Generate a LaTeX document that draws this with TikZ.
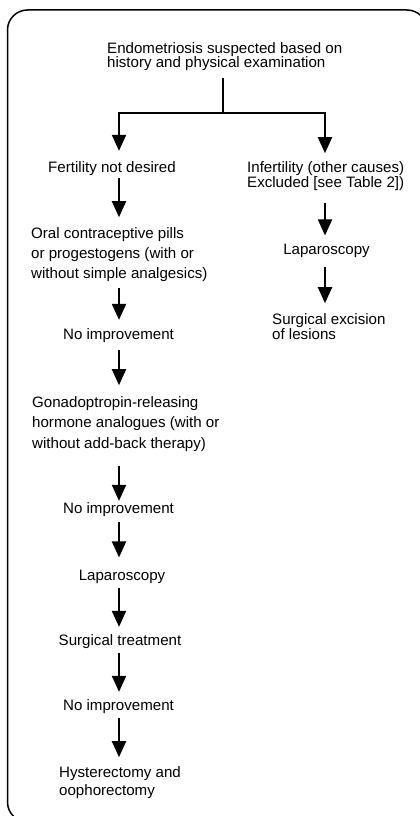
\documentclass[tikz,border=0pt]{standalone}
\usepackage{fontspec}
\setmainfont{Liberation Sans}
\usetikzlibrary{arrows.meta,calc}
\begin{document}
\begin{tikzpicture}[x=1pt,y=-1pt,
  txt/.style={inner sep=0pt,font=\fontsize{15.1}{20.3}\selectfont,align=left},
  arr/.style={line width=2pt,-{Triangle[width=14pt,length=16pt]}},
  ln/.style={line width=2pt},
  frame/.style={line width=1.5pt,rounded corners=20pt}]
\useasboundingbox (0,0) rectangle (420,816);
\clip (0,0) rectangle (420,816);
\draw[frame] (7.5,10) rectangle (427,822);
\coordinate (lx) at (119,0);
\coordinate (rx) at (325,0);
\coordinate (mx) at (223,0);
\coordinate (jn) at (223,113);
% nodes
\node[txt,anchor=north west,font=\fontsize{15.1}{14.5}\selectfont] (title) at (107,42.2) {Endometriosis suspected based on\\history and physical examination};
\node[txt,anchor=base west] (fert) at (48,172) {Fertility not desired};
\node[txt,anchor=north west,font=\fontsize{15.1}{15}\selectfont] (infert) at (247,161.2) {Infertility (other causes)\\Excluded [see Table 2])};
\node[txt,anchor=north west] (ocp) at (31,227.2) {Oral contraceptive pills\\or progestogens (with or\\without simple analgesics)};
\node[txt,anchor=base] (noimp1) at (118.5,339) {No improvement};
\node[txt,anchor=north west,font=\fontsize{15.1}{20.5}\selectfont] (gnrh) at (32,396.2) {Gonadoptropin-releasing\\hormone analogues (with or\\without add-back therapy)};
\node[txt,anchor=base] (noimp2) at (118.5,513) {No improvement};
\node[txt,anchor=base] (lap1) at (122,580) {Laparoscopy};
\node[txt,anchor=base] (surg) at (120,645) {Surgical treatment};
\node[txt,anchor=base] (noimp3) at (118.5,710) {No improvement};
\node[txt,anchor=north west,font=\fontsize{15.1}{18.5}\selectfont] (hyst) at (59,766.2) {Hysterectomy and\\oophorectomy};
\node[txt,anchor=base] (lap2) at (326.5,254) {Laparoscopy};
\node[txt,anchor=north west,font=\fontsize{15.1}{15}\selectfont] (excis) at (272,313.2) {Surgical excision\\of lesions};
% connectors
\draw[ln, shorten <=7pt] (title.south -| mx) -- (jn);
\draw[arr, shorten >=10pt] (jn) -| (fert.north -| lx);
\draw[arr, shorten >=8pt] (jn) -| (infert.north -| rx);
\draw[arr, shorten <=3pt, shorten >=10pt] (fert.south -| lx) -- (ocp.north -| lx);
\draw[arr, shorten <=6pt, shorten >=8pt] (ocp.south -| lx) -- (noimp1.north -| lx);
\draw[arr, shorten <=8pt, shorten >=11pt] (noimp1.south -| lx) -- (gnrh.north -| lx);
\draw[arr, shorten <=14pt, shorten >=1pt] (gnrh.south -| lx) -- (noimp2.north -| lx);
\draw[arr, shorten <=6pt, shorten >=12pt] (noimp2.south -| lx) -- (lap1.north -| lx);
\draw[arr, shorten <=5pt, shorten >=7pt] (lap1.south -| lx) -- (surg.north -| lx);
\draw[arr, shorten <=5pt, shorten >=7pt] (surg.south -| lx) -- (noimp3.north -| lx);
\draw[arr, shorten <=5pt, shorten >=9pt] (noimp3.south -| lx) -- (hyst.north -| lx);
\draw[arr, shorten <=12pt, shorten >=8pt] (infert.south -| rx) -- (lap2.north -| rx);
\draw[arr, shorten <=10pt, shorten >=10pt] (lap2.south -| rx) -- (excis.north -| rx);
\end{tikzpicture}
\end{document}
